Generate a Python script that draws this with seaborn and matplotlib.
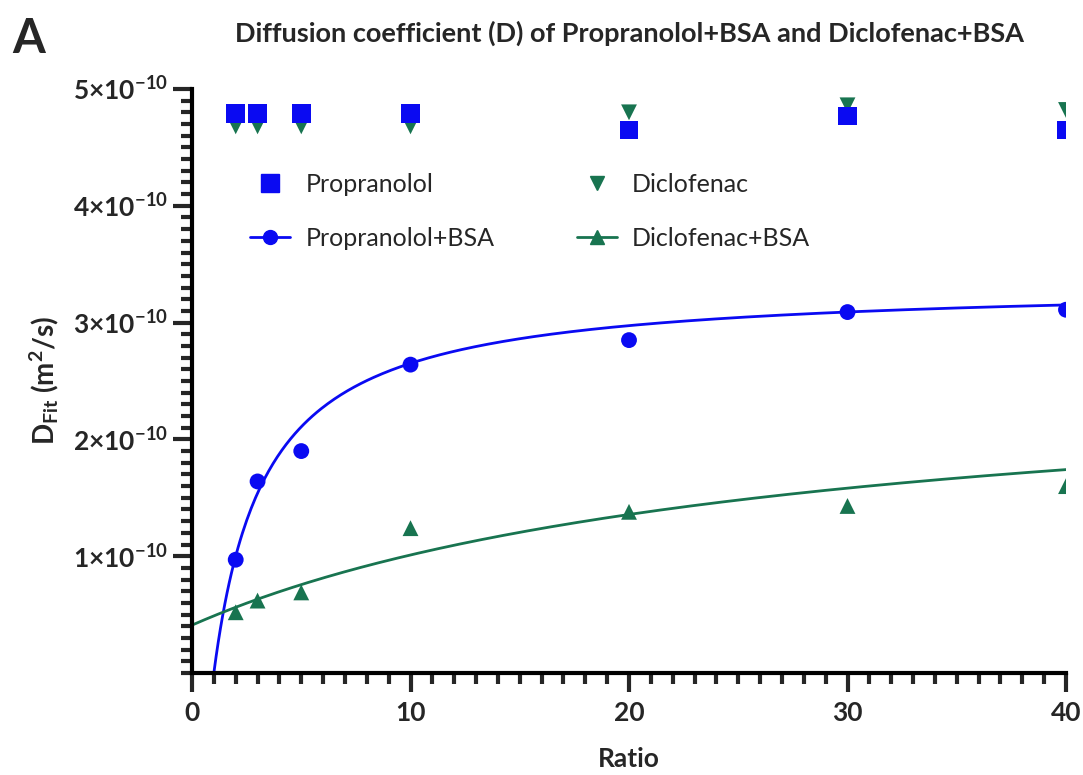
import numpy as np
import pandas as pd
import matplotlib
matplotlib.use('Agg')
import matplotlib.pyplot as plt
import seaborn as sns
from matplotlib.lines import Line2D
from matplotlib.ticker import MultipleLocator, FuncFormatter

BLUE = '#0a0af2'
GREEN = '#187450'

# Data (D in units of 1e-10 m^2/s)
ratio = [2, 3, 5, 10, 20, 30, 40]
propranolol = [4.79, 4.79, 4.79, 4.79, 4.65, 4.77, 4.65]
diclofenac = [4.68, 4.68, 4.68, 4.68, 4.80, 4.86, 4.82]
propranolol_bsa = [0.97, 1.64, 1.90, 2.64, 2.85, 3.09, 3.11]
diclofenac_bsa = [0.52, 0.62, 0.69, 1.24, 1.38, 1.43, 1.60]
y_ticks = [1, 2, 3, 4, 5]

# fitted curve parameters D = D0 + A*x/(K+x), read from the drawn fits
prop_fit = (-2.49, 5.83, 1.34)
dicl_fit = (0.41, 2.24, 27.3)

sns.set_theme(style='ticks')
plt.rcParams['font.family'] = ['Lato', 'DejaVu Sans']
plt.rcParams['mathtext.fontset'] = 'custom'
plt.rcParams['mathtext.rm'] = 'Lato'
plt.rcParams['mathtext.bf'] = 'Lato:bold'
plt.rcParams['mathtext.default'] = 'bf'

df = pd.DataFrame({'ratio': ratio,
                   'prop': np.array(propranolol) * 1e-10,
                   'dicl': np.array(diclofenac) * 1e-10,
                   'prop_bsa': np.array(propranolol_bsa) * 1e-10,
                   'dicl_bsa': np.array(diclofenac_bsa) * 1e-10})

xs = np.linspace(0, 40, 400)
def model(p, x):
    d0, a, k = p
    return (d0 + a * x / (k + x)) * 1e-10
fit = pd.DataFrame({'x': xs, 'prop': model(prop_fit, xs), 'dicl': model(dicl_fit, xs)})

fig = plt.figure(figsize=(10.83, 7.75), dpi=100)
ax = fig.add_axes([0.1773, 0.1316, 0.8070, 0.7536])

sns.lineplot(data=fit, x='x', y='prop', color=BLUE, lw=2.0, ax=ax)
sns.lineplot(data=fit, x='x', y='dicl', color=GREEN, lw=2.0, ax=ax)

sns.scatterplot(data=df, x='ratio', y='dicl', marker='v', s=130, color=GREEN, edgecolor='none', ax=ax, zorder=3)
sns.scatterplot(data=df, x='ratio', y='prop', marker='s', s=180, color=BLUE, edgecolor='none', ax=ax, zorder=4)
sns.scatterplot(data=df, x='ratio', y='prop_bsa', marker='o', s=130, color=BLUE, edgecolor='none', ax=ax, zorder=4)
sns.scatterplot(data=df, x='ratio', y='dicl_bsa', marker='^', s=130, color=GREEN, edgecolor='none', ax=ax, zorder=4)

ax.set_xlim(0, 40)
ax.set_ylim(0, 5e-10)
for s in ['top', 'right']:
    ax.spines[s].set_visible(False)
for s in ['left', 'bottom']:
    ax.spines[s].set_linewidth(3)
    ax.spines[s].set_color('black')

ax.set_xticks([0, 10, 20, 30, 40])
ax.xaxis.set_minor_locator(MultipleLocator(1))
ax.set_yticks([v * 1e-10 for v in y_ticks])
ax.yaxis.set_minor_locator(MultipleLocator(1e-11))
ax.tick_params(which='major', length=14, width=3, direction='out', labelsize=19)
ax.tick_params(which='minor', length=8, width=3, direction='out')
ax.tick_params(axis='x', which='major', pad=6)

def yfmt(v, pos):
    n = int(round(v / 1e-10))
    return r'$%d{\times}10^{-10}$' % n
ax.yaxis.set_major_formatter(FuncFormatter(yfmt))
for lab in ax.get_xticklabels():
    lab.set_fontweight('bold')

ax.set_xlabel('Ratio', fontsize=19, fontweight='bold', labelpad=16)
ax.set_ylabel(r'D$_{\mathregular{Fit}}$ (m$^{2}$/s)', fontsize=20, fontweight='bold', labelpad=8)
ax.set_title('Diffusion coefficient (D) of Propranolol+BSA and Diclofenac+BSA',
             fontsize=19.5, fontweight='bold', pad=34)
fig.text(0.011, 0.932, 'A', fontsize=34, fontweight='bold')

handles = [
    Line2D([], [], color=BLUE, marker='s', ls='none', markersize=13),
    Line2D([], [], color=BLUE, marker='o', lw=2, markersize=10),
    Line2D([], [], color=GREEN, marker='v', ls='none', markersize=10),
    Line2D([], [], color=GREEN, marker='^', lw=2, markersize=10),
]
labels = ['Propranolol', 'Propranolol+BSA', 'Diclofenac', 'Diclofenac+BSA']
ax.legend(handles, labels, ncol=2, frameon=False, fontsize=18,
          loc='upper left', bbox_to_anchor=(0.041, 0.895), columnspacing=3.3,
          handlelength=1.6, handletextpad=0.6, labelspacing=1.25)

fig.savefig('out.png', dpi=100)
